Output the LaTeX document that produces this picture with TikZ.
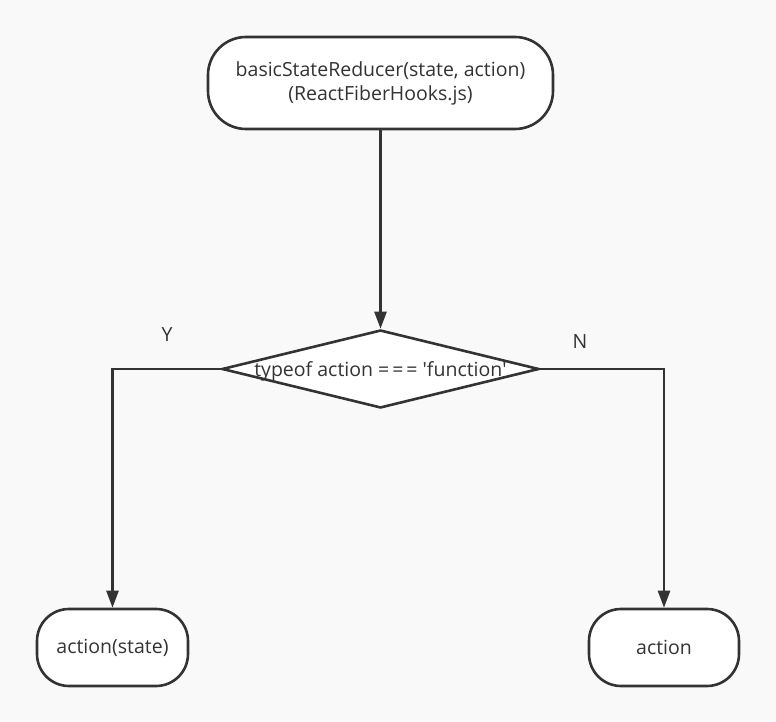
\documentclass[tikz,border=0pt]{standalone}
\usepackage{fontspec}
\setmainfont{Open Sans}
\usetikzlibrary{shapes.geometric,arrows.meta}
\definecolor{ink}{HTML}{333333}
\definecolor{paper}{HTML}{F9F9F9}
\newcommand{\tripleeq}{=\hspace{3pt}=\hspace{3pt}=}
\begin{document}
\begin{tikzpicture}[x=1pt,y=-1pt,
  every node/.style={text=ink, font=\fontsize{19.5}{24}\selectfont},
  terminal/.style={draw=ink, line width=2.6pt, fill=white, rectangle,
    rounded corners=32pt, align=center, inner sep=0pt},
  decision/.style={draw=ink, line width=2.6pt, fill=white, diamond,
    inner sep=0pt, minimum width=317pt, minimum height=78pt},
  flow/.style={draw=ink, line width=2.6pt,
    -{Triangle[length=17pt,width=12pt]}}]
  \fill[paper] (0,0) rectangle (776,722);
  \useasboundingbox (0,0) rectangle (776,722);

  \node[terminal, minimum width=345pt, minimum height=92pt, rounded corners=38pt]
    (start) at (380.5,83) {basicStateReducer(state, action)\\(ReactFiberHooks.js)};
  \node[decision] (test) at (380.5,369)
    {\makebox[0pt]{\smash{\raisebox{-7.5pt}{typeof action \tripleeq\ \textquotesingle function\textquotesingle}}}};
  \node[terminal, minimum width=151pt, minimum height=77pt] (yes) at (112.5,647.5) {action(state)};
  \node[terminal, minimum width=150pt, minimum height=77pt] (no) at (664,647.5) {action};

  \draw[flow] (start) -- (test);
  \draw[flow] (test.west) -| (yes.north);
  \draw[flow] (test.east) -| (no.north);

  \node (ylab) at (167,335) {Y};
  \node (nlab) at (580,342) {N};
\end{tikzpicture}
\end{document}
